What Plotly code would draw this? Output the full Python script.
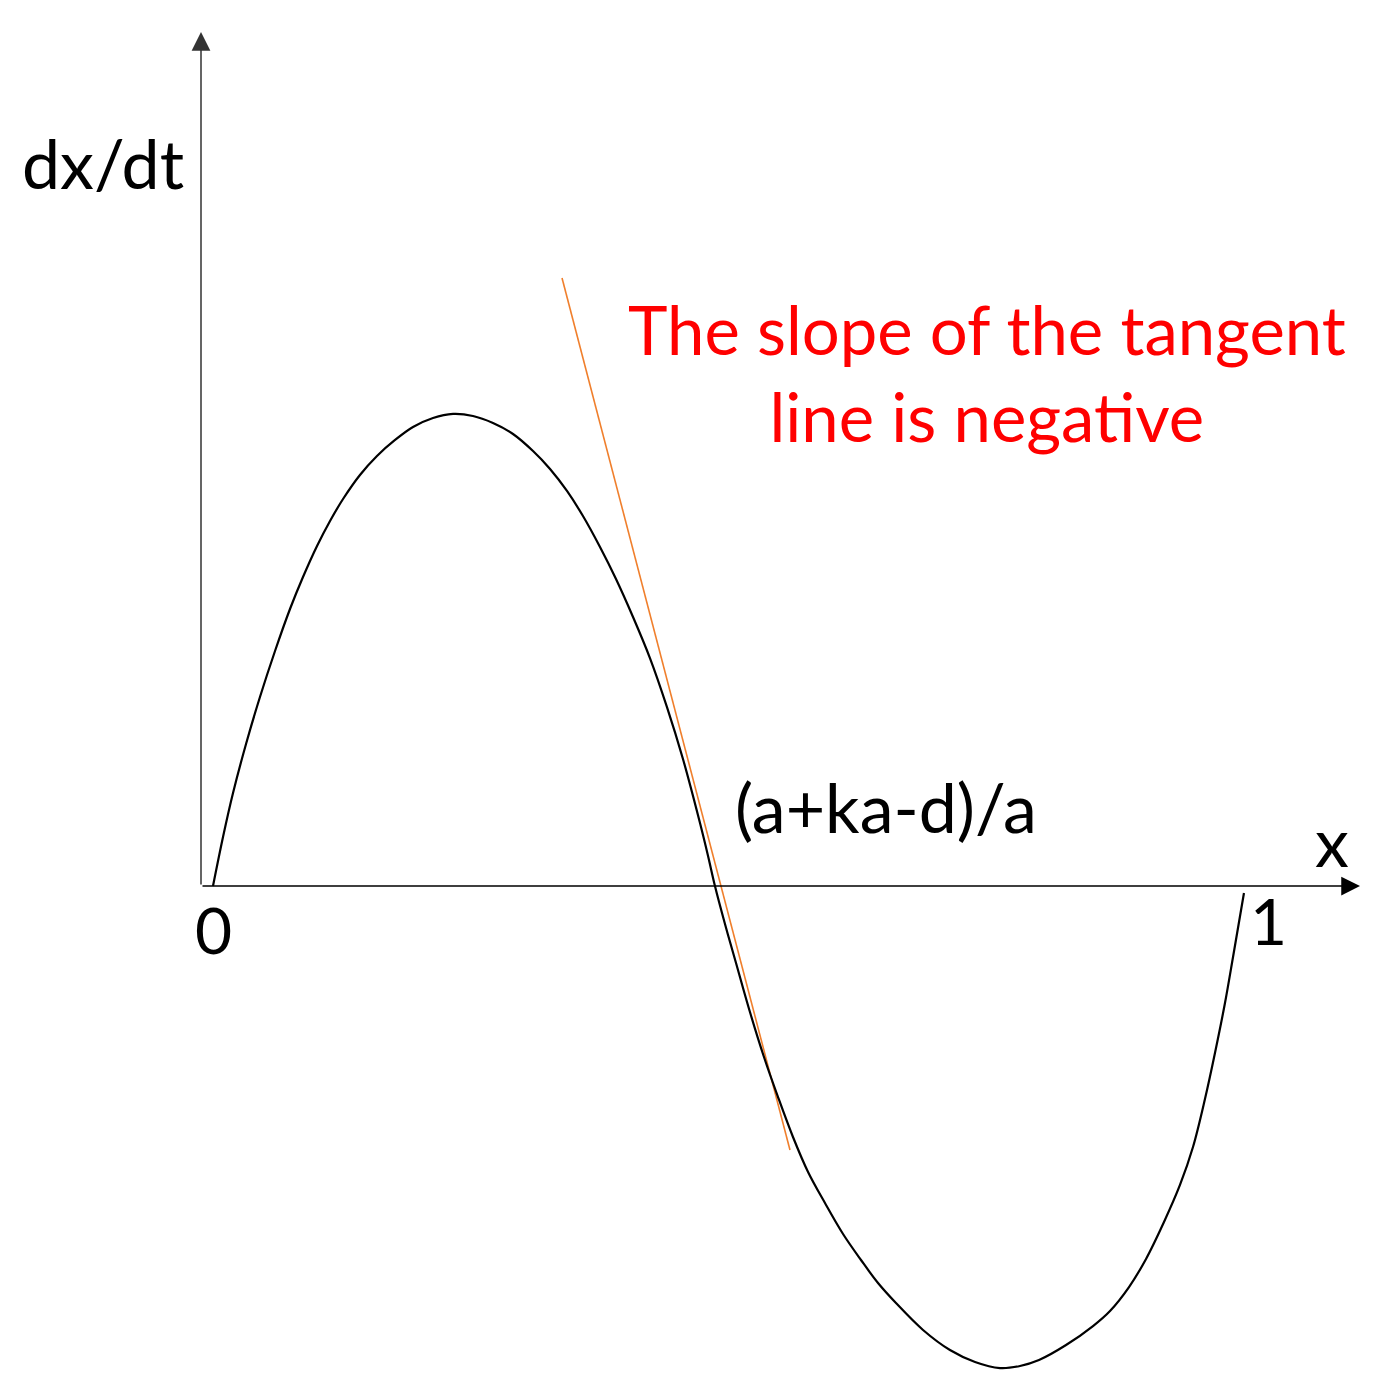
import plotly.graph_objects as go

# curva dx/dt contra x
curva_x = [0.0, 0.0097, 0.0194, 0.0320, 0.0455, 0.0601, 0.0746, 0.0872, 0.1008,
           0.1134, 0.1260, 0.1424, 0.1589, 0.1764, 0.1938, 0.2132, 0.2326,
           0.2519, 0.2713, 0.2907, 0.3101, 0.3266, 0.3430, 0.3585, 0.3750,
           0.3905, 0.4070, 0.4234, 0.4399, 0.4554, 0.4719, 0.4797, 0.4864,
           0.4961, 0.5068, 0.5203, 0.5339, 0.5475, 0.5620, 0.5766, 0.5930,
           0.6105, 0.6279, 0.6444, 0.6618, 0.6880, 0.7141, 0.7384, 0.7626,
           0.7820, 0.8004, 0.8266, 0.8527, 0.8692, 0.8876, 0.9041, 0.9215,
           0.9370, 0.9496, 0.9612, 0.9709, 0.9806, 0.9884, 0.9990]
curva_y = [0.0, 0.0475, 0.0901, 0.1376, 0.1831, 0.2277, 0.2684, 0.2994, 0.3295,
           0.3537, 0.3750, 0.3983, 0.4167, 0.4322, 0.4448, 0.4535, 0.4574,
           0.4554, 0.4486, 0.4380, 0.4215, 0.4041, 0.3828, 0.3585, 0.3285,
           0.2975, 0.2607, 0.2209, 0.1734, 0.1231, 0.0610, 0.0291, 0.0,
           -0.0368, -0.0746, -0.1221, -0.1657, -0.2045, -0.2432, -0.2771, -0.3072,
           -0.3372, -0.3624, -0.3847, -0.4041, -0.4302, -0.4496, -0.4612, -0.4671,
           -0.4651, -0.4593, -0.4448, -0.4264, -0.4118, -0.3886, -0.3614, -0.3256,
           -0.2897, -0.2529, -0.2064, -0.1618, -0.1134, -0.0688, -0.0068]

# reta tangente no ponto (a+ka-d)/a
tangente_x = [0.3382, 0.5591]
tangente_y = [0.5891, -0.2558]

rotulo_zero = "0"
rotulo_um = "1"
rotulo_raiz = "(a+ka-d)/a"
rotulo_eixo_x = "x"
rotulo_eixo_y = "dx/dt"
texto_vermelho = "The slope of the tangent<br>line is negative"

W, H = 1380, 1390
OFF = 8  # margem do body da página
ESC = 1032.0  # pixels por unidade
X0, Y0 = 213, 886  # pixel da origem na tela


def px(p):
    return (p - X0) / ESC


def py(p):
    return (Y0 - p) / ESC


FONTE = "Lato"

fig = go.Figure()

fig.add_trace(go.Scatter(
    x=tangente_x, y=tangente_y, mode="lines",
    line=dict(color="#F07F2C", width=1.6), hoverinfo="skip"
))
fig.add_trace(go.Scatter(
    x=curva_x, y=curva_y, mode="lines",
    line=dict(color="black", width=2.2, shape="spline", smoothing=1.0),
    hoverinfo="skip"
))

# eixos com setas
fig.add_annotation(x=px(1360), y=0, ax=px(201), ay=0, xref="x", yref="y",
                   axref="x", ayref="y", text="", showarrow=True,
                   arrowhead=2, arrowsize=2.5, arrowwidth=1.5, arrowcolor="black")
fig.add_annotation(x=px(201), y=py(32), ax=px(201), ay=0, xref="x", yref="y",
                   axref="x", ayref="y", text="", showarrow=True,
                   arrowhead=2, arrowsize=2.5, arrowwidth=1.5, arrowcolor="#333333")

preto = dict(family=FONTE, size=64, color="black")
fig.add_annotation(x=px(103), y=py(162), text=rotulo_eixo_y, showarrow=False,
                   font=dict(family=FONTE, size=68, color="black"))
fig.add_annotation(x=px(1332), y=py(840), text=rotulo_eixo_x, showarrow=False,
                   font=dict(family=FONTE, size=68, color="black"))
fig.add_annotation(x=px(213), y=py(929), text=rotulo_zero, showarrow=False, font=preto)
fig.add_annotation(x=px(1268), y=py(920), text=rotulo_um, showarrow=False, font=preto)
fig.add_annotation(x=px(886), y=py(806), text=rotulo_raiz, showarrow=False,
                   font=dict(family=FONTE, size=68, color="black"))
fig.add_annotation(x=px(987), y=py(372), text=texto_vermelho, showarrow=False,
                   font=dict(family=FONTE, size=67, color="#FF0000"))

fig.update_layout(
    width=W - 2 * OFF, height=H - 2 * OFF,
    margin=dict(l=0, r=0, t=0, b=0),
    paper_bgcolor="white", plot_bgcolor="white",
    showlegend=False,
    xaxis=dict(range=[px(OFF), px(W - OFF)], visible=False, fixedrange=True),
    yaxis=dict(range=[py(H - OFF), py(OFF)], visible=False, fixedrange=True),
)

fig.write_html("out.html")
